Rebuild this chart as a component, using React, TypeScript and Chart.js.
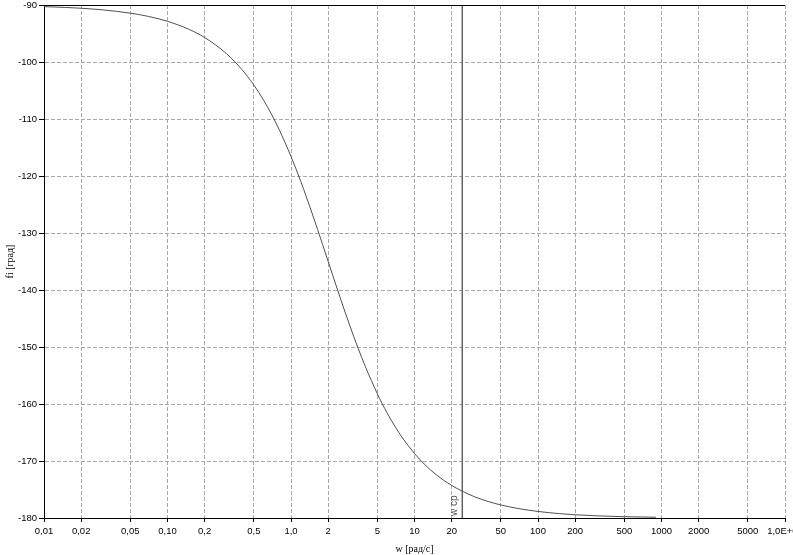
import React, { useEffect, useRef } from "react";
import { Chart, registerables } from "chart.js";

Chart.register(...registerables);

// angular frequency w [рад/с]
const omega = [
  0.01, 0.015, 0.02, 0.03, 0.05, 0.07, 0.1, 0.15, 0.2, 0.3, 0.4, 0.5, 0.6, 0.7, 0.8,
  1.0, 1.2, 1.5, 1.8, 2, 2.5, 3, 3.5, 4, 5, 6, 7, 8, 10, 12, 15, 20, 30, 40, 50, 70,
  100, 150, 200, 300, 500, 900,
];
// phase fi [град]
const phase = [
  -90.29, -90.43, -90.57, -90.86, -91.43, -92.0, -92.86, -94.29, -95.71, -98.53,
  -101.31, -104.04, -106.7, -109.29, -111.8, -116.57, -120.96, -126.87, -131.99,
  -135.0, -141.34, -146.31, -150.26, -153.43, -158.2, -161.57, -164.05, -165.96,
  -168.69, -170.54, -172.41, -174.29, -176.19, -177.14, -177.71, -178.36, -178.85,
  -179.24, -179.43, -179.62, -179.77, -179.87,
];
// crossover frequency marker
const wCp = 24.4;
const wCpLabel = "w ср";

const xTickValues = [
  0.01, 0.02, 0.05, 0.1, 0.2, 0.5, 1, 2, 5, 10, 20, 50, 100, 200, 500, 1000, 2000, 5000, 10000,
];
const xTickLabels = [
  "0,01", "0,02", "0,05", "0,10", "0,2", "0,5", "1,0", "2", "5", "10", "20", "50",
  "100", "200", "500", "1000", "2000", "5000", "1,0E+04",
];
const yTickValues = [-180, -170, -160, -150, -140, -130, -120, -110, -100, -90];
const yTickLabels = ["-180", "-170", "-160", "-150", "-140", "-130", "-120", "-110", "-100", "-90"];

const xTitle = "w [рад/с]";
const yTitle = "fi [град]";

const tickFont = { family: "'Liberation Sans', Arial, sans-serif", size: 9.5 };
const titleFont = { family: "'Liberation Serif', 'Times New Roman', serif", size: 10 };

export default function App() {
  const ref = useRef<HTMLCanvasElement | null>(null);

  useEffect(() => {
    if (!ref.current) return;

    const extras = {
      id: "extras",
      afterDraw(chart: any) {
        const { ctx, chartArea, scales } = chart;
        ctx.save();
        // top frame line
        ctx.strokeStyle = "#000";
        ctx.lineWidth = 1;
        ctx.beginPath();
        ctx.moveTo(chartArea.left, chartArea.top + 0.5);
        ctx.lineTo(chartArea.right, chartArea.top + 0.5);
        ctx.stroke();
        // label of crossover line
        const px = scales.x.getPixelForValue(wCp);
        ctx.translate(px - 3, chartArea.bottom - 2);
        ctx.rotate(-Math.PI / 2);
        ctx.fillStyle = "#555";
        ctx.font = "10px 'Liberation Sans', Arial, sans-serif";
        ctx.textAlign = "left";
        ctx.textBaseline = "bottom";
        ctx.fillText(wCpLabel, 0, 0);
        ctx.restore();
      },
    };

    const chart = new Chart(ref.current, {
      type: "line",
      data: {
        datasets: [
          {
            data: omega.map((w, i) => ({ x: w, y: phase[i] })),
            borderColor: "#505050",
            borderWidth: 1,
            pointRadius: 0,
            cubicInterpolationMode: "monotone",
          },
          {
            data: [
              { x: wCp, y: -90 },
              { x: wCp, y: -180 },
            ],
            borderColor: "#606060",
            borderWidth: 1,
            pointRadius: 0,
          },
        ],
      },
      options: {
        animation: false,
        responsive: false,
        devicePixelRatio: 1,
        layout: { padding: { top: 5, right: 8, left: 0, bottom: 0 } },
        plugins: { legend: { display: false }, tooltip: { enabled: false } },
        scales: {
          x: {
            type: "logarithmic",
            min: 0.01,
            max: 10000,
            afterBuildTicks: (s: any) => {
              s.ticks = xTickValues.map((v) => ({ value: v }));
            },
            afterFit: (s: any) => {
              s.height = 37;
              s.paddingLeft = 0;
              s.paddingRight = 0;
            },
            ticks: {
              autoSkip: false,
              maxRotation: 0,
              minRotation: 0,
              color: "#000",
              font: tickFont,
              padding: 4,
              callback: (_v: any, i: number) => xTickLabels[i],
            },
            grid: {
              color: "#a8a8a8",
              tickColor: "#000",
              tickLength: 4,
              tickBorderDash: [],
            },
            border: { color: "#000", width: 1, dash: [4, 2] },
            title: {
              display: true,
              text: xTitle,
              color: "#000",
              font: titleFont,
              padding: { top: 0, bottom: 0 },
            },
          },
          y: {
            type: "linear",
            min: -180,
            max: -90,
            afterBuildTicks: (s: any) => {
              s.ticks = yTickValues.map((v) => ({ value: v }));
            },
            afterFit: (s: any) => {
              s.width = 44;
              s.paddingTop = 0;
              s.paddingBottom = 0;
            },
            ticks: {
              color: "#000",
              font: tickFont,
              padding: 2,
              callback: (_v: any, i: number) => yTickLabels[i],
            },
            grid: {
              color: "#a8a8a8",
              tickColor: "#000",
              tickLength: 5,
              tickBorderDash: [],
            },
            border: { color: "#000", width: 1, dash: [4, 2] },
            title: {
              display: true,
              text: yTitle,
              color: "#000",
              font: titleFont,
              padding: { top: 4, bottom: 0 },
            },
          },
        },
      },
      plugins: [extras],
    } as any);

    return () => chart.destroy();
  }, []);

  return (
    <div style={{ position: "absolute", left: 0, top: 0, width: 793, height: 555, background: "#fff" }}>
      <canvas ref={ref} width={793} height={555} />
    </div>
  );
}
